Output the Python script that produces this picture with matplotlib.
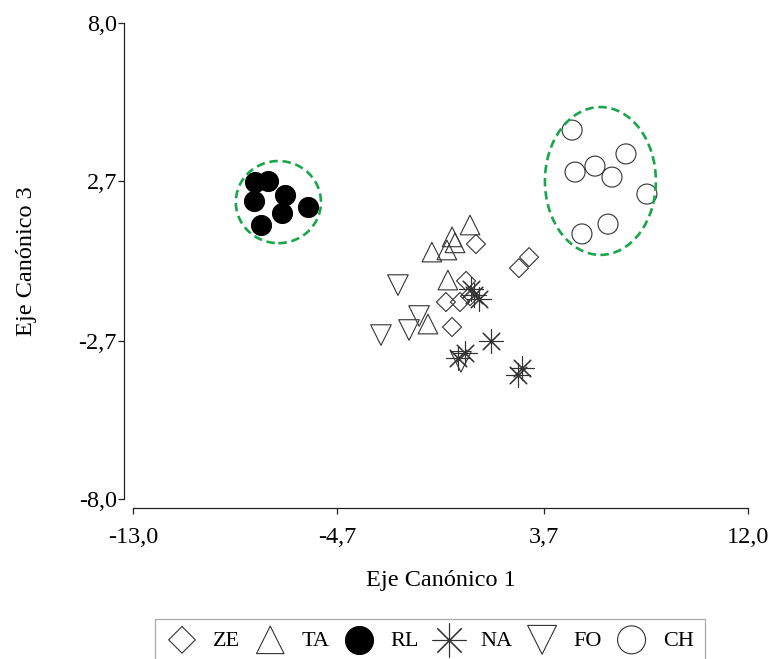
import matplotlib

matplotlib.use("Agg")
import matplotlib.pyplot as plt
from matplotlib.patches import Ellipse

plt.rcParams["font.family"] = ["Liberation Serif", "DejaVu Serif"]

# canonical scores (axis 1, axis 3) per group
ze_x = [0.94, 3.10, 2.69, 0.54, -0.28, 0.29, 0.70, -0.03]
ze_y = [0.57, 0.13, -0.24, -0.67, -1.38, -1.38, -1.18, -2.22]

ta_x = [0.70, -0.03, 0.09, -0.24, -0.85, -0.20, -1.01]
ta_y = [1.21, 0.81, 0.61, 0.37, 0.30, -0.64, -2.12]

rl_x = [-8.04, -7.51, -8.08, -6.82, -6.94, -5.89, -7.80]
rl_y = [2.66, 2.69, 2.02, 2.22, 1.61, 1.82, 1.21]

na_x = [0.74, 1.07, 0.86, 1.55, 0.50, 0.21, 2.81, 2.65]
na_y = [-0.94, -1.28, -1.14, -2.69, -3.09, -3.26, -3.60, -3.83]

fo_x = [-2.23, -1.37, -1.78, -2.92, 0.33]
fo_y = [-0.81, -1.85, -2.32, -2.49, -3.39]

ch_x = [4.85, 4.97, 5.78, 6.47, 7.04, 7.89, 6.31, 5.25]
ch_y = [4.40, 2.99, 3.19, 2.82, 3.60, 2.25, 1.24, 0.91]

# dashed ellipses around the separated groups: (cx, cy, width, height)
rl_ellipse = (-7.09, 1.98, 3.46, 2.76)
ch_ellipse = (6.00, 2.69, 4.51, 4.97)

x_ticks = [-13.0, -4.7, 3.7, 12.0]
y_ticks = [-8.0, -2.7, 2.7, 8.0]


def fmt(v):
    return f"{v:.1f}".replace(".", ",")


def main():
    fig = plt.figure(figsize=(7.74, 6.59), dpi=100)
    ax = fig.add_axes([133 / 774, 160 / 659, 615 / 774, 476 / 659])

    edge = "#333333"
    lw = 0.8
    groups = [
        ("ZE", ze_x, ze_y, "D", 94, "none"),
        ("TA", ta_x, ta_y, "^", 200, "none"),
        ("RL", rl_x, rl_y, "o", 207, "black"),
        ("NA", na_x, na_y, (8, 2, 0), 290, "line"),
        ("FO", fo_x, fo_y, "v", 220, "none"),
        ("CH", ch_x, ch_y, "o", 207, "none"),
    ]
    handles = []
    for name, xs, ys, mk, size, fc in groups:
        if fc == "line":
            # asterisk is an unfilled marker: its colour comes from the face
            h = ax.scatter(xs, ys, s=size, marker=mk, c=edge,
                           linewidths=lw, label=name, zorder=3)
        else:
            h = ax.scatter(xs, ys, s=size, marker=mk, facecolors=fc,
                           edgecolors=edge if fc == "none" else "black",
                           linewidths=lw, label=name, zorder=3)
        handles.append(h)

    green = "#19a64a"
    for cx, cy, w, h in (rl_ellipse, ch_ellipse):
        ax.add_patch(Ellipse((cx, cy), w, h, fill=False, edgecolor=green,
                             linestyle=(0, (3.2, 1.8)), linewidth=1.9,
                             zorder=4))

    ax.set_xlim(x_ticks[0], x_ticks[-1])
    ax.set_ylim(y_ticks[0], y_ticks[-1])
    ax.set_xticks(x_ticks)
    ax.set_yticks(y_ticks)
    ax.set_xticklabels([fmt(v) for v in x_ticks])
    ax.set_yticklabels([fmt(v) for v in y_ticks])

    for side in ("top", "right"):
        ax.spines[side].set_visible(False)
    for side in ("left", "bottom"):
        ax.spines[side].set_position(("outward", 6.5))
        ax.spines[side].set_color("#222222")
        ax.spines[side].set_linewidth(0.9)

    ax.tick_params(axis="x", direction="out", length=4, width=0.9,
                   color="#222222", labelsize=17.5, pad=10)
    ax.tick_params(axis="y", direction="out", length=4, width=0.9,
                   color="#222222", labelsize=17.5, pad=1)

    ax.set_xlabel("Eje Canónico 1", fontsize=17.5)
    ax.set_ylabel("Eje Canónico 3", fontsize=17.5)
    ax.xaxis.set_label_coords(0.5, -0.15)
    ax.yaxis.set_label_coords(-0.156, 0.5)

    leg = fig.legend(handles=handles, loc="upper center",
                     bbox_to_anchor=(430 / 774, 1 - 619 / 659), ncol=6,
                     fontsize=16, markerscale=1.4, frameon=True,
                     fancybox=False, edgecolor="#aaaaaa", framealpha=1,
                     handlelength=1.4, handletextpad=0.7,
                     columnspacing=0.65, borderpad=0.5, borderaxespad=0,
                     scatterpoints=1)
    leg.get_frame().set_linewidth(0.9)
    return fig


if __name__ == "__main__":
    fig = main()
    fig.savefig("out.png", dpi=100)
